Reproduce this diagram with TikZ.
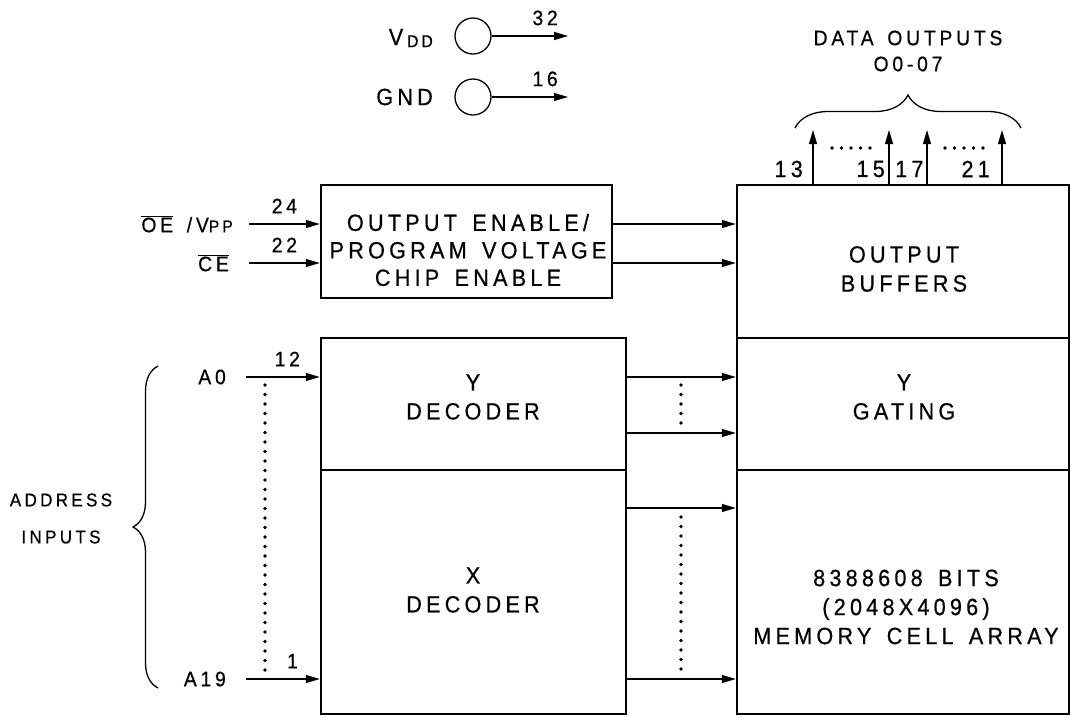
\documentclass[tikz,border=0pt]{standalone}
\usepackage{fontspec}
\setmainfont{Liberation Sans}[FakeStretch=0.92,LetterSpace=18,WordSpace=1.5,FakeBold=0.6]
\usetikzlibrary{arrows.meta,decorations.pathreplacing}

\newcommand{\lblfont}{\fontsize{23.5}{29}\selectfont}
\newcommand{\pinfont}{\fontsize{21}{26}\selectfont}
\newcommand{\addrfont}{\fontsize{18.5}{37}\selectfont}
\newcommand{\subfont}{\fontsize{17}{17}\selectfont}

\begin{document}
\begin{tikzpicture}[x=1pt,y=-1pt,
  blk/.style={draw, line width=2.4pt, inner sep=0pt},
  txt/.style={font=\lblfont, inner sep=0pt, align=center},
  pin/.style={font=\pinfont, inner sep=0pt},
  arrow/.style={-{Stealth[length=14pt,width=8pt,inset=0pt]}, line width=1.3pt},
  dots/.style={line width=3.6pt, line cap=round, dash pattern=on 0pt off 9.5pt},
  brc/.style={decorate, decoration={brace, amplitude=#1, aspect=0.5}, line width=1.3pt}
]
\useasboundingbox (0,0) rectangle (1071,716);

% blocks
\node[blk, minimum width=291pt, minimum height=113pt] (oe) at (466.5,241.5) {};
\node[blk, minimum width=305pt, minimum height=132pt] (yd) at (473.5,404) {};
\node[blk, minimum width=305pt, minimum height=244pt] (xd) at (473.5,592) {};
\node[blk, minimum width=332pt, minimum height=153pt] (ob) at (903,261.5) {};
\node[blk, minimum width=332pt, minimum height=132pt] (yg) at (903,404) {};
\node[blk, minimum width=332pt, minimum height=244pt] (mem) at (903,592) {};

\node[txt] (oetxt) at (468,250) {OUTPUT ENABLE/\\[-1.5pt]PROGRAM VOLTAGE\\[-1.5pt]CHIP ENABLE};
\node[txt] (ydtxt) at (473,397) {Y\\DECODER};
\node[txt] (xdtxt) at (473,590) {X\\DECODER};
\node[txt] (obtxt) at (904,269) {OUTPUT\\BUFFERS};
\node[txt] (ygtxt) at (904,397) {Y\\GATING};
\node[txt] (memtxt) at (906,607) {8388608 BITS\\(2048X4096)\\MEMORY CELL ARRAY};

% supply pins
\node[circle, draw, line width=1.3pt, minimum size=36pt, inner sep=0pt] (vdd) at (473,36) {};
\node[circle, draw, line width=1.3pt, minimum size=36pt, inner sep=0pt] (gnd) at (473,97) {};
\node[txt, anchor=east] (vddlbl) at (433,38) {V\,\raisebox{-2pt}{\subfont DD}};
\node[txt, anchor=east] (gndlbl) at (433,97) {GND};
\coordinate (vddout) at (568,36);
\coordinate (gndout) at (568,97);
\draw[arrow] (vdd.east) -- (vddout) node[pin, pos=0.7, above=10pt] {32};
\draw[arrow] (gnd.east) -- (gndout) node[pin, pos=0.7, above=10pt] {16};

% control inputs
\node[pin, anchor=east] (oelbl) at (233,224) {$\overline{\mbox{OE}}$\ /V{\subfont PP}};
\node[pin, anchor=east] (celbl) at (229,263) {$\overline{\mbox{CE}}$};
\coordinate (oein) at (249,224);
\coordinate (cein) at (249,263);
\draw[arrow] (oein) -- (oe.west |- oein) node[pin, midway, above=10pt] {24};
\draw[arrow] (cein) -- (oe.west |- cein) node[pin, midway, above=10pt] {22};
\draw[arrow] (oe.east |- oein) -- (ob.west |- oein);
\draw[arrow] (oe.east |- cein) -- (ob.west |- cein);

% address inputs
\node[pin, anchor=east] (a0) at (226,377) {A0};
\node[pin, anchor=east] (a19) at (226,679) {A19};
\coordinate (a0in) at (246,377);
\coordinate (a19in) at (246,679);
\draw[arrow] (a0in) -- (yd.west |- a0in) node[pin, pos=0.56, above=10pt] {12};
\draw[arrow] (a19in) -- (xd.west |- a19in) node[pin, pos=0.63, above=10pt] {1};
\draw[dots] (265,385) -- (265,670);
\draw[brc=25pt] (158,688) -- (158,366);
\node[txt, font=\addrfont] (addr) at (61,518.5) {ADDRESS\\INPUTS};

% decoder outputs
\coordinate (y1) at (0,377);
\coordinate (y2) at (0,433);
\coordinate (x1) at (0,508);
\coordinate (x2) at (0,679);
\draw[arrow] (yd.east |- y1) -- (yg.west |- y1);
\draw[arrow] (yd.east |- y2) -- (yg.west |- y2);
\draw[arrow] (xd.east |- x1) -- (mem.west |- x1);
\draw[arrow] (xd.east |- x2) -- (mem.west |- x2);
\draw[dots] (681,385) -- (681,424);
\draw[dots] (681,517) -- (681,670);

% data outputs
\foreach \x/\n in {813/d13, 889/d15, 927/d17, 1002/d21}
  \draw[arrow] (ob.north -| \x,0) -- (\x,130) coordinate (\n);
\node[txt, anchor=east] (l13) at (803,169) {13};
\node[txt, anchor=east] (l15) at (885,169) {15};
\node[txt, anchor=west] (l17) at (895,169) {17};
\node[txt, anchor=east] (l21) at (990,169) {21};
\draw[dots] (832,148) -- (873,148);
\draw[dots] (945,148) -- (986,148);
\draw[brc=33pt] (795,128) -- (1021,128);
\node[txt, font=\pinfont] (dout) at (908,51) {DATA OUTPUTS\\O0-07};
\end{tikzpicture}
\end{document}
